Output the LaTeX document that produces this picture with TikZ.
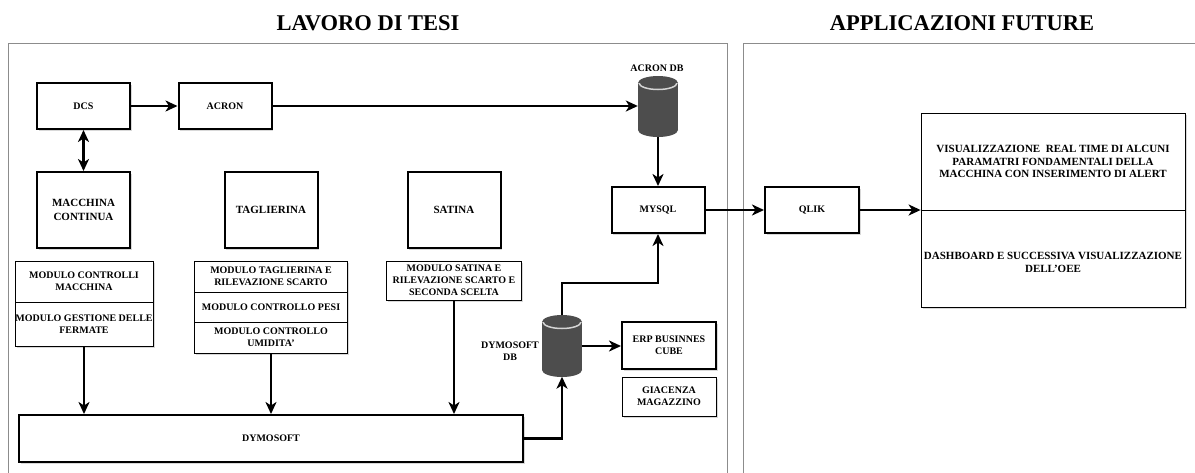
\documentclass[tikz,border=0pt]{standalone}
\usepackage{fontspec}
\setmainfont{Liberation Serif}
\usetikzlibrary{arrows.meta,shadows}
\definecolor{dbfill}{HTML}{4D4D4D}
\definecolor{rimc}{HTML}{D4D4D4}
\definecolor{framec}{HTML}{8C8C8C}
\newcommand{\dbdraw}[3]{%
  \fill[dbfill] ({#1-20},{#2+7}) rectangle ({#1+20},{#3-7});
  \fill[dbfill] (#1,{#2+7}) ellipse [x radius=20, y radius=7];
  \fill[dbfill] (#1,{#3-7}) ellipse [x radius=20, y radius=7];
  \begin{scope}
    \clip ({#1-22},{#2+7}) rectangle ({#1+22},{#2+16});
    \draw[rimc, line width=1.5pt] (#1,{#2+7}) ellipse [x radius=19, y radius=6.5];
  \end{scope}}
\begin{document}
\begin{tikzpicture}[x=1pt,y=-1pt,
  txt/.style={font=\fontsize{10}{12}\selectfont\bfseries, align=center},
  bigtxt/.style={font=\fontsize{11}{14}\selectfont\bfseries, align=center},
  futtxt/.style={font=\fontsize{11}{12.5}\selectfont\bfseries, align=center},
  shad/.style={drop shadow={shadow xshift=1.5pt, shadow yshift=-1.5pt, opacity=0.3}},
  thickbox/.style={draw, line width=2pt, fill=white, inner sep=0pt, txt, shad},
  thinbox/.style={draw, line width=0.8pt, fill=white, inner sep=0pt, txt, shad},
  conn/.style={line width=2.3pt, -{Stealth[length=12pt,width=11pt,inset=3.5pt]}},
  dconn/.style={line width=2.3pt, {Stealth[length=12pt,width=11pt,inset=3.5pt]}-{Stealth[length=12pt,width=11pt,inset=3.5pt]}},
  framebox/.style={draw=framec, line width=1pt},
  ttl/.style={font=\fontsize{22.5}{26}\selectfont\bfseries},
  dbnode/.style={inner sep=0pt, minimum width=40, minimum height=61}
]
\clip (0,0) rectangle (1195,472);
\fill[white] (0,0) rectangle (1195,472);

% frames and titles
\draw[framebox] (8,43) rectangle (727,490);
\draw[framebox] (743,43) rectangle (1210,490);
\node[ttl] (t1) at (368,23) {LAVORO DI TESI};
\node[ttl] (t2) at (962,23) {APPLICAZIONI FUTURE};

% top row
\node[thickbox, minimum width=93, minimum height=46] (dcs) at (83.5,106) {DCS};
\node[thickbox, minimum width=93, minimum height=46] (acron) at (225,106) {ACRON};

% machines
\node[thickbox, bigtxt, minimum width=93, minimum height=76] (mc) at (83.5,210) {MACCHINA\\CONTINUA};
\node[thickbox, bigtxt, minimum width=93, minimum height=76] (tag) at (271,210) {TAGLIERINA};
\node[thickbox, bigtxt, minimum width=93, minimum height=76] (sat) at (454,210) {SATINA};

% modules
\node[thinbox, minimum width=138, minimum height=41] (mm1) at (84,281.5) {MODULO CONTROLLI\\MACCHINA};
\node[thinbox, minimum width=138, minimum height=44] (mm2) at (84,324) {MODULO GESTIONE DELLE\\FERMATE};
\node[thinbox, minimum width=153, minimum height=31] (tm1) at (271,276.5) {MODULO TAGLIERINA E\\RILEVAZIONE SCARTO};
\node[thinbox, minimum width=153, minimum height=30] (tm2) at (271,307) {MODULO CONTROLLO PESI};
\node[thinbox, minimum width=153, minimum height=31] (tm3) at (271,337.5) {MODULO CONTROLLO\\UMIDITA'};
\node[thinbox, minimum width=135, minimum height=39] (sm1) at (454,280.5) {MODULO SATINA E\\RILEVAZIONE SCARTO E\\SECONDA SCELTA};

% dymosoft
\node[thickbox, minimum width=504, minimum height=47] (dymo) at (271,438.5) {DYMOSOFT};

% databases
\dbdraw{658}{76}{137}
\node[dbnode] (acdb) at (658,106.5) {};
\node[txt] (acdbl) at (657,68) {ACRON DB};
\dbdraw{562}{315}{377}
\node[dbnode] (dydb) at (562,346) {};
\node[txt] (dydbl) at (510,351) {DYMOSOFT\\DB};

% right side boxes
\node[thickbox, minimum width=93, minimum height=46] (mysql) at (658,210) {MYSQL};
\node[thickbox, minimum width=94, minimum height=46] (qlik) at (812,210) {QLIK};
\node[thickbox, minimum width=94, minimum height=47] (erp) at (669,345.5) {ERP BUSINNES\\CUBE};
\node[thinbox, minimum width=94, minimum height=39] (giac) at (669,396.5) {GIACENZA\\MAGAZZINO};
\node[thinbox, futtxt, minimum width=264, minimum height=97] (vis) at (1053,161.5) {VISUALIZZAZIONE\ \ REAL TIME DI ALCUNI\\PARAMATRI FONDAMENTALI DELLA\\MACCHINA CON INSERIMENTO DI ALERT};
\node[thinbox, minimum width=264, minimum height=97] (dash) at (1053,258.5) {};
\node[futtxt, anchor=north] (dasht) at (1053,249) {DASHBOARD E SUCCESSIVA VISUALIZZAZIONE\\DELL'OEE};

% connectors
\draw[conn] (dcs) -- (acron);
\draw[dconn] (dcs) -- (mc);
\draw[conn] (acron.east) -- (acron.east -| acdb.west);
\draw[conn] (acdb.south) -- (acdb.south |- mysql.north);
\draw[conn] (mysql) -- (qlik);
\draw[conn] (qlik.east) -- (qlik.east -| vis.south west);
\draw[conn] (mm2.south) -- (mm2.south |- dymo.north);
\draw[conn] (tm3.south) -- (tm3.south |- dymo.north);
\draw[conn] (sm1.south) -- (sm1.south |- dymo.north);
\draw[conn] (dymo.east) -| (dydb.south);
\draw[conn] (dydb.north) -- ++(0,-32) -| (mysql.south);
\draw[conn] (dydb.east) -- (dydb.east -| erp.west);
\end{tikzpicture}
\end{document}
